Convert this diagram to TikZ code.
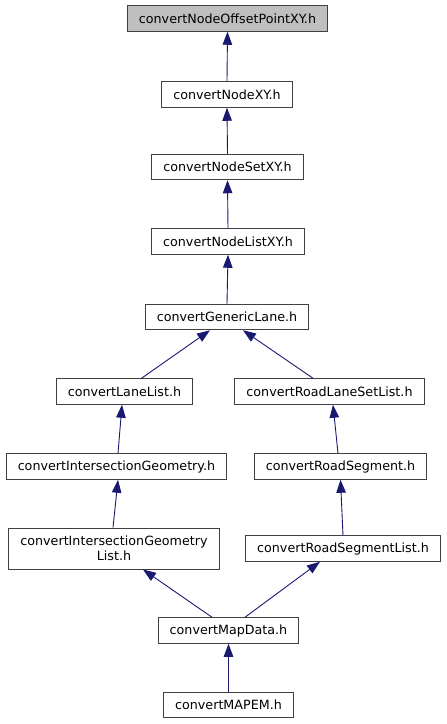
\documentclass[tikz,border=0pt]{standalone}
\usepackage{fontspec}
\setmainfont{DejaVu Sans}
\usetikzlibrary{arrows.meta}

\definecolor{doxyblue}{HTML}{191970}
\definecolor{doxyborder}{HTML}{404040}
\definecolor{doxygrey}{HTML}{BFBFBF}

\begin{document}
\begin{tikzpicture}[
    x=1pt, y=-1pt,
    every node/.style={align=center, font=\fontsize{12.7}{15}\selectfont},
    % Stile per i file header
    hfile/.style={draw=doxyborder, line width=1pt, rectangle, fill=white,
                  minimum height=25.5pt, inner xsep=11.5pt, inner ysep=2pt},
    % Stile per il file corrente (evidenziato)
    current/.style={hfile, fill=doxygrey},
    % Stile per le dipendenze
    dep/.style={draw=doxyblue, line width=0.9pt,
                -{Triangle[length=13pt, width=9.5pt]}}
]
\useasboundingbox (0,0) rectangle (447,724);

% --- CATENA PRINCIPALE ---
\node[current] (offset)  at (227.5, 18.5) {convertNodeOffsetPointXY.h};
\node[hfile]   (nodexy)  at (227, 94.5)   {convertNodeXY.h};
\node[hfile]   (nodeset) at (227.5, 167)  {convertNodeSetXY.h};
\node[hfile]   (nodelist) at (228, 241.5) {convertNodeListXY.h};
\node[hfile]   (generic) at (227, 317)    {convertGenericLane.h};

% --- RAMO SINISTRO ---
\node[hfile] (lanelist) at (124.5, 391.5) {convertLaneList.h};
\node[hfile] (isgeom)   at (116.5, 466.5) {convertIntersectionGeometry.h};
\node[hfile, minimum height=41pt] (isgeomlist) at (114, 548.5)
    {convertIntersectionGeometry\\List.h};

% --- RAMO DESTRO ---
\node[hfile] (lanesetlist) at (329.5, 391.5) {convertRoadLaneSetList.h};
\node[hfile] (roadseg)     at (340.5, 466.5) {convertRoadSegment.h};
\node[hfile] (roadseglist) at (343, 548.5)   {convertRoadSegmentList.h};

% --- FONDO ---
\node[hfile] (mapdata) at (228.5, 630.5) {convertMapData.h};
\node[hfile] (mapem)   at (228.5, 705)   {convertMAPEM.h};

% --- DIPENDENZE ---
\draw[dep] (nodexy.north)   -- (offset.south);
\draw[dep] (nodeset.north)  -- (nodexy.south);
\draw[dep] (nodelist.north) -- (nodeset.south);
\draw[dep] (generic.north)  -- (nodelist.south);
\draw[dep] ([xshift=17pt]lanelist.north)     -- ([xshift=-17pt]generic.south);
\draw[dep] ([xshift=-16.5pt]lanesetlist.north) -- ([xshift=16pt]generic.south);
\draw[dep] ([xshift=1.5pt]isgeom.north)      -- ([xshift=-2.5pt]lanelist.south);
\draw[dep] ([xshift=-2.5pt]roadseg.north)    -- ([xshift=3.5pt]lanesetlist.south);
\draw[dep] ([xshift=-1pt]isgeomlist.north)   -- ([xshift=1.5pt]isgeom.south);
\draw[dep] (roadseglist.north)               -- (roadseg.south);
\draw[dep] ([xshift=-16.5pt]mapdata.north)   -- ([xshift=29pt]isgeomlist.south);
\draw[dep] ([xshift=16.5pt]mapdata.north)    -- ([xshift=-23pt]roadseglist.south);
\draw[dep] (mapem.north)                     -- (mapdata.south);

\end{tikzpicture}
\end{document}
